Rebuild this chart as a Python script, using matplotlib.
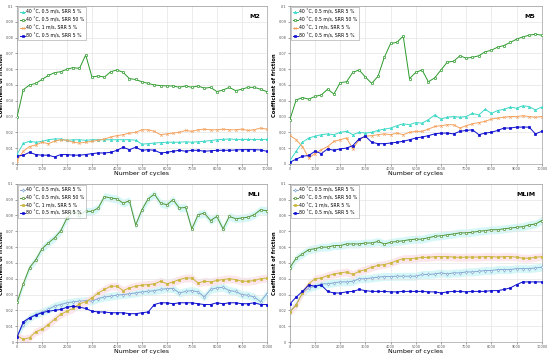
import numpy as np
import matplotlib
matplotlib.use("Agg")
import matplotlib.pyplot as plt

# cycles sampled every 250
cycles = np.arange(0, 10001, 250)

labels = ["40 ˚C, 0.5 m/s, SRR 5 %", "40 ˚C, 0.5 m/s, SRR 50 %",
          "40 ˚C, 1 m/s, SRR 5 %", "80 ˚C, 0.5 m/s, SRR 5 %"]

# ---- M2 ----
m2_srr5 = [0.006, 0.013, 0.0143, 0.0137, 0.0143, 0.0153, 0.0158, 0.0158, 0.0149, 0.0153,
           0.0153, 0.0149, 0.0153, 0.0153, 0.0153, 0.0153, 0.0153, 0.0153, 0.0153, 0.0150,
           0.0125, 0.0128, 0.0132, 0.0135, 0.0137, 0.0137, 0.0137, 0.0140, 0.0137, 0.0140,
           0.0143, 0.0148, 0.0153, 0.0155, 0.0158, 0.0155, 0.0155, 0.0155, 0.0155, 0.0155, 0.0155]
m2_srr50 = [0.0296, 0.047, 0.050, 0.051, 0.0535, 0.056, 0.0578, 0.0584, 0.060, 0.061,
            0.0605, 0.069, 0.055, 0.0557, 0.055, 0.0584, 0.0595, 0.058, 0.054, 0.0535,
            0.052, 0.051, 0.050, 0.0496, 0.0494, 0.0494, 0.0485, 0.0494, 0.0485, 0.0494,
            0.0479, 0.0485, 0.0458, 0.0468, 0.0485, 0.0464, 0.0473, 0.0485, 0.0485, 0.0473, 0.0458]
m2_1ms = [0.002, 0.008, 0.011, 0.012, 0.0137, 0.0128, 0.0143, 0.0153, 0.0149, 0.0137,
          0.0132, 0.0137, 0.0143, 0.0149, 0.0158, 0.017, 0.0179, 0.0185, 0.0195, 0.020,
          0.0216, 0.0216, 0.0206, 0.0185, 0.019, 0.0195, 0.020, 0.0212, 0.0206, 0.0216,
          0.022, 0.0216, 0.0216, 0.022, 0.0216, 0.0216, 0.022, 0.0212, 0.0216, 0.0227, 0.022]
m2_80c = [0.005, 0.0055, 0.0073, 0.0059, 0.0055, 0.0055, 0.0044, 0.0059, 0.0059, 0.0055,
          0.0055, 0.0059, 0.0065, 0.0069, 0.0069, 0.0073, 0.0086, 0.0105, 0.009, 0.0105,
          0.0086, 0.009, 0.0086, 0.0069, 0.0073, 0.008, 0.0086, 0.008, 0.0086, 0.0086,
          0.008, 0.0083, 0.0086, 0.0086, 0.0086, 0.0088, 0.009, 0.009, 0.009, 0.0088, 0.008]

# ---- M5 ----
m5_srr5 = [0.002, 0.008, 0.0137, 0.0164, 0.0175, 0.0185, 0.019, 0.0185, 0.020, 0.0206,
           0.0185, 0.020, 0.0195, 0.020, 0.0212, 0.022, 0.0227, 0.0242, 0.0254, 0.0248,
           0.0262, 0.0258, 0.028, 0.031, 0.0284, 0.0296, 0.030, 0.0296, 0.030, 0.032,
           0.031, 0.0346, 0.032, 0.0338, 0.0346, 0.036, 0.0353, 0.0368, 0.0363, 0.0342, 0.036]
m5_srr50 = [0.028, 0.0405, 0.042, 0.041, 0.0427, 0.0437, 0.0473, 0.0443, 0.0515, 0.052,
            0.058, 0.0595, 0.055, 0.051, 0.0555, 0.0675, 0.0763, 0.077, 0.081, 0.054,
            0.058, 0.0595, 0.052, 0.0545, 0.0595, 0.0645, 0.065, 0.0685, 0.067, 0.0675,
            0.0685, 0.071, 0.072, 0.074, 0.075, 0.077, 0.079, 0.0805, 0.0815, 0.0822, 0.0815]
m5_1ms = [0.018, 0.0153, 0.011, 0.0038, 0.0065, 0.009, 0.011, 0.0143, 0.0153, 0.0164,
          0.0095, 0.0153, 0.0175, 0.0179, 0.0185, 0.019, 0.0185, 0.0195, 0.0185, 0.020,
          0.0206, 0.0206, 0.022, 0.0237, 0.0242, 0.0248, 0.0248, 0.0227, 0.0242, 0.0254,
          0.0262, 0.0269, 0.0284, 0.029, 0.0296, 0.030, 0.030, 0.0305, 0.030, 0.0296, 0.030]
m5_80c = [0.001, 0.003, 0.0048, 0.0053, 0.008, 0.0065, 0.0095, 0.0086, 0.0095, 0.010,
          0.0116, 0.0158, 0.0175, 0.0137, 0.0128, 0.0128, 0.0132, 0.0137, 0.0143, 0.0153,
          0.0164, 0.017, 0.0179, 0.019, 0.0195, 0.0195, 0.019, 0.0206, 0.0212, 0.0216,
          0.0185, 0.0195, 0.020, 0.0212, 0.0227, 0.0227, 0.0233, 0.0233, 0.0233, 0.019, 0.0206]

# ---- MLi ----
mli_srr5 = [0.004, 0.011, 0.0153, 0.0175, 0.019, 0.0206, 0.0227, 0.0237, 0.0248, 0.0254,
            0.0258, 0.0262, 0.0258, 0.0275, 0.0284, 0.029, 0.0296, 0.030, 0.0305, 0.031,
            0.0317, 0.032, 0.0325, 0.0332, 0.0338, 0.0338, 0.031, 0.032, 0.0325, 0.0317,
            0.0285, 0.0332, 0.0342, 0.0346, 0.0325, 0.032, 0.030, 0.0296, 0.0284, 0.0255, 0.0305]
mli_srr50 = [0.025, 0.0368, 0.047, 0.052, 0.059, 0.0626, 0.0658, 0.0704, 0.0784, 0.0826,
             0.0805, 0.0826, 0.0826, 0.0847, 0.092, 0.091, 0.0905, 0.0878, 0.0893, 0.074,
             0.0836, 0.0905, 0.0935, 0.0878, 0.0868, 0.090, 0.0847, 0.0851, 0.0715, 0.0805,
             0.0815, 0.0768, 0.0794, 0.0715, 0.0794, 0.078, 0.0784, 0.0789, 0.0805, 0.0836, 0.083]
mli_1ms = [0.004, 0.0017, 0.0027, 0.0065, 0.008, 0.011, 0.0143, 0.0175, 0.0195, 0.0212,
           0.0242, 0.0254, 0.028, 0.031, 0.0332, 0.0353, 0.0353, 0.0325, 0.0342, 0.0353,
           0.036, 0.0363, 0.0368, 0.0384, 0.0368, 0.038, 0.0395, 0.0405, 0.0405, 0.0374,
           0.0384, 0.038, 0.0389, 0.0395, 0.040, 0.0395, 0.0384, 0.0384, 0.0389, 0.040, 0.0405]
mli_80c = [0.003, 0.0128, 0.0153, 0.017, 0.0185, 0.0195, 0.020, 0.0206, 0.022, 0.0227,
           0.022, 0.0212, 0.0195, 0.019, 0.019, 0.0185, 0.0185, 0.0185, 0.0179, 0.0179,
           0.0185, 0.019, 0.0237, 0.0248, 0.0248, 0.0242, 0.0248, 0.0248, 0.0248, 0.0242,
           0.0237, 0.0237, 0.0248, 0.0242, 0.0248, 0.0248, 0.0242, 0.0242, 0.0248, 0.0237, 0.0237]

# ---- MLiM ----
mlim_srr5 = [0.019, 0.0237, 0.031, 0.0342, 0.0353, 0.0368, 0.0368, 0.0374, 0.038, 0.038,
             0.0384, 0.040, 0.040, 0.0405, 0.041, 0.0414, 0.0414, 0.0416, 0.0416, 0.0416,
             0.0416, 0.0427, 0.0427, 0.043, 0.0437, 0.043, 0.0437, 0.0437, 0.0443, 0.0443,
             0.0447, 0.0452, 0.0452, 0.0458, 0.0458, 0.0458, 0.0464, 0.0464, 0.0464, 0.0468, 0.0473]
mlim_srr50 = [0.047, 0.053, 0.0557, 0.0584, 0.059, 0.060, 0.060, 0.061, 0.061, 0.062,
              0.062, 0.062, 0.0626, 0.0626, 0.0636, 0.062, 0.063, 0.0636, 0.064, 0.0647,
              0.065, 0.065, 0.066, 0.0668, 0.0672, 0.0678, 0.0683, 0.069, 0.069, 0.0694,
              0.070, 0.0704, 0.071, 0.071, 0.0716, 0.072, 0.0725, 0.073, 0.074, 0.0746, 0.0768]
mlim_1ms = [0.019, 0.0233, 0.031, 0.0368, 0.040, 0.0405, 0.042, 0.043, 0.0437, 0.0443,
            0.0427, 0.0447, 0.0458, 0.0473, 0.0485, 0.049, 0.050, 0.0515, 0.0527, 0.0527,
            0.053, 0.0535, 0.0535, 0.054, 0.054, 0.054, 0.0537, 0.0535, 0.0537, 0.0537,
            0.0537, 0.054, 0.054, 0.0537, 0.054, 0.054, 0.0537, 0.053, 0.053, 0.0535, 0.054]
mlim_80c = [0.024, 0.0284, 0.032, 0.036, 0.0353, 0.036, 0.032, 0.031, 0.031, 0.0317,
            0.032, 0.0332, 0.0325, 0.032, 0.032, 0.032, 0.0317, 0.0317, 0.032, 0.032,
            0.032, 0.032, 0.0317, 0.0317, 0.031, 0.0317, 0.032, 0.032, 0.0317, 0.032,
            0.032, 0.032, 0.0325, 0.0325, 0.0332, 0.0342, 0.0363, 0.038, 0.038, 0.038, 0.038]

panels = [
    ("M2", [m2_srr5, m2_srr50, m2_1ms, m2_80c], "a"),
    ("M5", [m5_srr5, m5_srr50, m5_1ms, m5_80c], "a"),
    ("MLi", [mli_srr5, mli_srr50, mli_1ms, mli_80c], "b"),
    ("MLiM", [mlim_srr5, mlim_srr50, mlim_1ms, mlim_80c], "b"),
]

# styles: color, marker, marker face
style_a = [("#3fd9c8", "^", "#3fd9c8"), ("#2a9a2a", "o", "white"),
           ("#f4a25e", "x", "#f4a25e"), ("#1010d0", "s", "#1010d0")]
style_b = [("#86a8d4", "d", "white"), ("#4f9434", "o", "white"),
           ("#cbb63c", "s", "#cbb63c"), ("#1010d0", "o", "#1010d0")]
band_colors = ["#d6f7f7", "#d6f7f7", "#fce6eb", None]
band = 0.0025

fig = plt.figure(figsize=(5.5, 3.57), dpi=100)
positions = [[0.031, 0.541, 0.454, 0.442], [0.527, 0.541, 0.458, 0.442],
             [0.031, 0.042, 0.454, 0.443], [0.527, 0.042, 0.458, 0.443]]

for pos, (name, series, kind) in zip(positions, panels):
    ax = fig.add_axes(pos)
    styles = style_a if kind == "a" else style_b
    if kind == "b":
        for s, bc in zip(series, band_colors):
            if bc:
                s = np.array(s)
                ax.fill_between(cycles, s - band, s + band, color=bc, lw=0, zorder=1)
    for s, lab, (c, m, fc) in zip(series, labels, styles):
        ax.plot(cycles, s, color=c, marker=m, markerfacecolor=fc, markeredgecolor=c,
                markersize=1.7, markeredgewidth=0.5, lw=0.7, label=lab, zorder=3)
    ax.set_xlim(0, 10000)
    ax.set_ylim(0, 0.1)
    ax.set_xticks(np.arange(0, 10001, 1000))
    ax.set_yticks(np.arange(0, 0.101, 0.01))
    ax.set_yticklabels(["0"] + ["%.2f" % v for v in np.arange(0.01, 0.1, 0.01)] + ["0.1"])
    ax.tick_params(labelsize=2.5, length=1.5, width=0.4, pad=1, colors="#555555")
    ax.grid(True, color="#e4e4e4", lw=0.5)
    for sp in ax.spines.values():
        sp.set_linewidth(0.4)
        sp.set_color("#888888")
    ax.set_xlabel("Number of cycles", fontsize=4.5, labelpad=0)
    ax.set_ylabel("Coefficient of friction", fontsize=3.8, fontweight="bold", labelpad=1)
    ax.text(0.975, 0.95, name, transform=ax.transAxes, ha="right", va="top",
            fontsize=4.6, fontweight="bold")
    leg = ax.legend(loc="upper left", fontsize=3.3, frameon=True, fancybox=False,
                    borderpad=0.4, labelspacing=0.6, handlelength=1.0, handletextpad=0.3,
                    borderaxespad=0.3)
    leg.get_frame().set_linewidth(0.4)
    leg.get_frame().set_edgecolor("#888888")

fig.savefig("out.png", dpi=100)
